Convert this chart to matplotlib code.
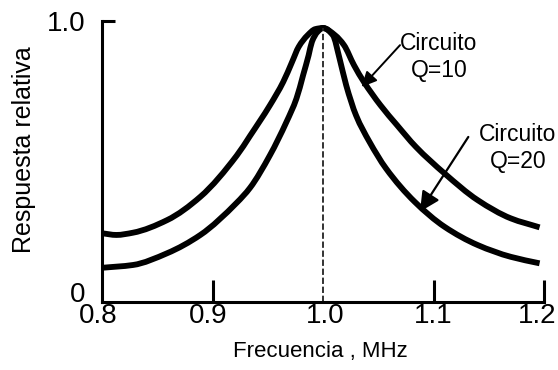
import matplotlib
matplotlib.use("Agg")
import matplotlib.pyplot as plt
import numpy as np
from matplotlib.path import Path
from matplotlib.patches import PathPatch
from matplotlib.transforms import ScaledTranslation

plt.rcParams['font.family'] = ['Liberation Sans', 'DejaVu Sans']

# Data
freq_q10 = [0.800, 0.813, 0.828, 0.859, 0.889, 0.922, 0.934, 0.952, 0.964, 0.972,
            0.978, 0.986, 0.993, 1.000, 1.011, 1.019, 1.028, 1.037, 1.052, 1.067,
            1.084, 1.110, 1.140, 1.170, 1.196]
resp_q10 = [0.243, 0.237, 0.245, 0.290, 0.373, 0.520, 0.590, 0.699, 0.782, 0.853,
            0.907, 0.948, 0.970, 0.974, 0.948, 0.913, 0.842, 0.782, 0.699, 0.628,
            0.551, 0.456, 0.361, 0.296, 0.264]

freq_q20 = [0.800, 0.828, 0.859, 0.889, 0.922, 0.934, 0.952, 0.967, 0.976, 0.982,
            0.987, 0.990, 0.995, 1.000, 1.009, 1.015, 1.021, 1.030, 1.042, 1.057,
            1.083, 1.110, 1.140, 1.170, 1.196]
resp_q20 = [0.120, 0.130, 0.172, 0.237, 0.352, 0.405, 0.521, 0.640, 0.723, 0.806,
            0.877, 0.925, 0.960, 0.974, 0.948, 0.865, 0.770, 0.662, 0.569, 0.474,
            0.355, 0.266, 0.201, 0.159, 0.136]

x_ticks = [0.8, 0.9, 1.0, 1.1, 1.2]
x_tick_labels = ["0.8", "0.9", "1.0", "1.1", "1.2"]
y_ticks = [0.0, 1.0]
y_tick_labels = ["0", "1.0"]
resonance = 1.0

label_q10 = "Circuito\nQ=10"
label_q20 = "Circuito\nQ=20"
xlabel = "Frecuencia , MHz"
ylabel = "Respuesta relativa"


def smooth_path(xs, ys):
    """Smooth Bezier path passing through every data point (monotone tangents)."""
    x = np.asarray(xs, float)
    y = np.asarray(ys, float)
    n = len(x)
    h = np.diff(x)
    d = np.diff(y) / h
    m = np.zeros(n)
    m[0] = d[0]
    m[-1] = d[-1]
    for k in range(1, n - 1):
        if d[k - 1] * d[k] <= 0:
            m[k] = 0.0
        else:
            w1 = 2 * h[k] + h[k - 1]
            w2 = h[k] + 2 * h[k - 1]
            m[k] = (w1 + w2) / (w1 / d[k - 1] + w2 / d[k])
    verts = [(x[0], y[0])]
    codes = [Path.MOVETO]
    for k in range(n - 1):
        verts.append((x[k] + h[k] / 3, y[k] + m[k] * h[k] / 3))
        verts.append((x[k + 1] - h[k] / 3, y[k + 1] - m[k + 1] * h[k] / 3))
        verts.append((x[k + 1], y[k + 1]))
        codes += [Path.CURVE4] * 3
    return Path(verts, codes)


fig = plt.figure(figsize=(5.58, 3.70), dpi=100)
ax = fig.add_axes([102/558, 1 - 301.5/370, 442/558, 280.8/370])

for fx, ry in [(freq_q10, resp_q10), (freq_q20, resp_q20)]:
    ax.add_patch(PathPatch(smooth_path(fx, ry), fill=False, edgecolor='black',
                           lw=4.2, capstyle='butt', joinstyle='round'))

peak = max(resp_q10)
ax.vlines(resonance, 0, peak, colors='#222222', linestyles=(0, (3.5, 1.5)), lw=1.3,
          zorder=1)

ax.set_xlim(0.8, 1.2)
ax.set_ylim(0, 1.0)

for s in ['top', 'right']:
    ax.spines[s].set_visible(False)
for s in ['left', 'bottom']:
    ax.spines[s].set_linewidth(2.2)
    ax.spines[s].set_capstyle('projecting')

ax.set_xticks(x_ticks)
ax.set_xticklabels(x_tick_labels)
ax.set_yticks(y_ticks)
ax.set_yticklabels(y_tick_labels)
ax.tick_params(axis='x', direction='in', length=16, width=2.2, labelsize=20, pad=1)
ax.tick_params(axis='y', direction='in', length=9, width=2.2, labelsize=20, pad=12)

xt = ax.xaxis.get_major_ticks()
xt[0].tick1line.set_visible(False)
xt[2].tick1line.set_visible(False)
yt = ax.yaxis.get_major_ticks()
yt[0].tick1line.set_visible(False)
yt[0].label1.set_verticalalignment('baseline')

# small horizontal nudges of x tick labels (pixels)
x_label_nudge = [-4, -4, 2, 0, -7]
for t, dx in zip(xt, x_label_nudge):
    t.label1.set_transform(t.label1.get_transform() +
                           ScaledTranslation(dx / 100, 0, fig.dpi_scale_trans))

ax.set_xlabel(xlabel, fontsize=16)
ax.xaxis.set_label_coords(0.495, -0.142)
ax.set_ylabel(ylabel, fontsize=18)
ax.yaxis.set_label_coords(-0.150, 0.54)

ax.text(1.105, 0.870, label_q10, ha='center', va='center', fontsize=16.5,
        linespacing=1.25)
ax.text(1.1765, 0.546, label_q20, ha='center', va='center', fontsize=16.5,
        linespacing=1.25, clip_on=False)

ax.annotate('', xy=(1.035, 0.764), xytext=(1.0697, 0.913),
            arrowprops=dict(arrowstyle='-|>,head_length=0.45,head_width=0.22',
                            mutation_scale=20, lw=1.4, color='black',
                            shrinkA=0, shrinkB=0))
ax.annotate('', xy=(1.0878, 0.320), xytext=(1.1315, 0.586),
            arrowprops=dict(arrowstyle='-|>,head_length=0.6,head_width=0.3',
                            mutation_scale=20, lw=1.6, color='black',
                            shrinkA=0, shrinkB=0))

fig.savefig('out.png', dpi=100)
